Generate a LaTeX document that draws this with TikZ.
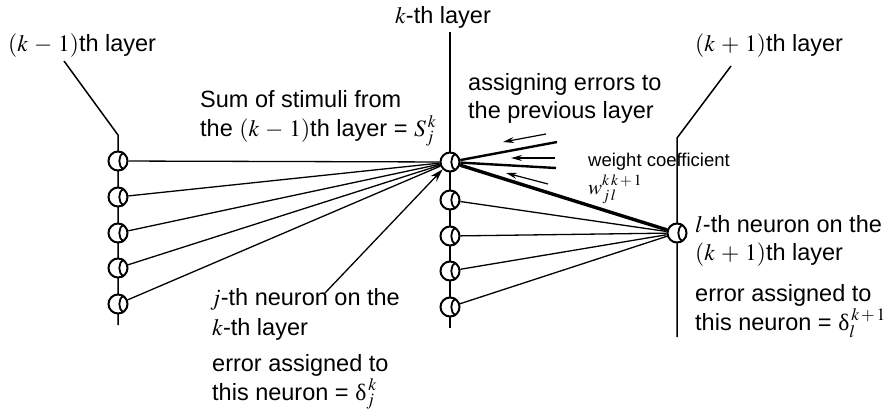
\documentclass[tikz,border=0pt]{standalone}
\usepackage{mathptmx}
\usepackage{fontspec}
\setmainfont{Liberation Sans}
\newfontfamily\greekfont{Liberation Serif}
\newcommand{\updel}{\mbox{\greekfont δ}}
\usetikzlibrary{arrows.meta}
\begin{document}
\begin{tikzpicture}[x=1pt,y=-1pt,
  neuron/.style={circle,draw,fill=white,minimum size=19pt,inner sep=0pt,line width=2pt},
  layerline/.style={line width=1.5pt},
  link/.style={line width=1.3pt},
  outlink/.style={line width=2.4pt},
  heavy/.style={line width=3.4pt},
  lbl/.style={anchor=base west,inner sep=0pt,font=\fontsize{23.5}{28}\selectfont},
  small/.style={anchor=base west,inner sep=0pt,font=\fontsize{18.5}{22}\selectfont},
  back/.style={line width=1.2pt,-{Stealth[length=11pt,width=6pt]}},
  point/.style={line width=1.3pt,-{Stealth[length=13pt,width=8pt]}}
]
\useasboundingbox (0,0) rectangle (896,416);

% layer lines
\coordinate (Ltop) at (64,61);
\coordinate (Lbend) at (118,135);
\coordinate (Lbot) at (118,325);
\coordinate (Ktop) at (450,32);
\coordinate (Kbot) at (450,328);
\coordinate (Ntop) at (731,66);
\coordinate (Nbend) at (677,138);
\coordinate (Nbot) at (677,337);
\draw[layerline] (Ltop) -- (Lbend) -- (Lbot);
\draw[layerline] (Ktop) -- (Kbot);
\draw[layerline] (Ntop) -- (Nbend) -- (Nbot);

% neurons
\node[neuron] (a1) at (118,161) {};
\node[neuron] (a2) at (118,197) {};
\node[neuron] (a3) at (118,233) {};
\node[neuron] (a4) at (118,268) {};
\node[neuron] (a5) at (118,304) {};
\node[neuron] (j) at (450,162) {};
\node[neuron] (b2) at (450,200) {};
\node[neuron] (b3) at (450,236) {};
\node[neuron] (b4) at (450,271) {};
\node[neuron] (b5) at (450,307) {};
\node[neuron] (l) at (677,233) {};
\foreach \n in {a1,a2,a3,a4,a5,j,b2,b3,b4,b5,l}
  \draw[line width=1.8pt] (\n.58) to[bend right=55] (\n.-58);

% connections
\foreach \n in {a1,a2,a3,a4,a5}
  \draw[link] (\n) -- (j);
\foreach \n in {b2,b3,b4,b5}
  \draw[link] (\n) -- (l);
\draw[heavy] (j) -- (l);
\coordinate (o1) at (557,142);
\coordinate (o2) at (556,168);
\draw[outlink] (j) -- (o1);
\draw[outlink] (j) -- (o2);

% back-propagation arrows
\coordinate (r1s) at (546,134);
\coordinate (r1e) at (503,142);
\coordinate (r2s) at (555,158);
\coordinate (r2e) at (511,158);
\coordinate (r3s) at (548,184);
\coordinate (r3e) at (506,173);
\draw[back] (r1s) -- (r1e);
\draw[back] (r2s) -- (r2e);
\draw[back] (r3s) -- (r3e);

% labels
\node[lbl] (tl) at (8,51) {$(k\,-\,1)$th layer};
\node[lbl,anchor=base] (tk) at (443,23) {$k$-th layer};
\node[lbl] (tn) at (695,51) {$(k\,+\,1)$th layer};
\node[lbl] (s1) at (200,107) {Sum of stimuli from};
\node[lbl] (s2) at (200,136) {the $(k\,-\,1)$th layer = $S_j^{\,k}$};
\node[lbl] (e1) at (468,90) {assigning errors to};
\node[lbl] (e2) at (468,118) {the previous layer};
\node[small] (w1) at (588,166) {weight coefficient};
\node[small,font=\fontsize{21}{24}\selectfont] (w2) at (588,194) {$w_{j\,l}^{k\,k\,+\,1}$};
\node[lbl] (n1) at (695,232) {$l$-th neuron on the};
\node[lbl] (n2) at (695,260) {$(k\,+\,1)$th layer};
\node[lbl] (n3) at (695,301) {error assigned to};
\node[lbl] (n4) at (695,330) {this neuron = $\updel_l^{\,k\,+\,1}$};
\node[lbl] (j1) at (210,305) {$j$-th neuron on the};
\node[lbl] (j2) at (212,335) {$k$-th layer};
\node[lbl] (j3) at (212,371) {error assigned to};
\node[lbl] (j4) at (212,400) {this neuron = $\updel_j^{\,k}$};

\coordinate (pt) at (325,293);
\draw[point] (pt) -- (j.-135);
\end{tikzpicture}
\end{document}
